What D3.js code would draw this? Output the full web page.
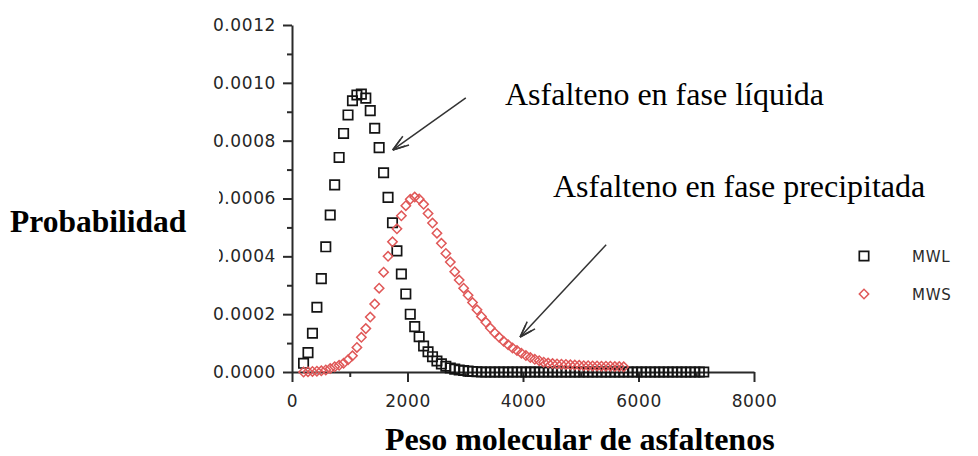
<!DOCTYPE html>
<html>
<head>
<meta charset="utf-8">
<script src="https://cdn.jsdelivr.net/npm/d3@7"></script>
<style>
  body { margin:0; background:#fff; }
  .tick text { font-family:"DejaVu Sans", sans-serif; font-size:17px; fill:#262626; letter-spacing:0.6px; }
  .axis path, .axis line { stroke:#2a2a2a; stroke-width:2; }
  .serif { font-family:"Liberation Serif", "Times New Roman", serif; fill:#000; }
</style>
</head>
<body>
<svg id="chart" width="978" height="456"></svg>
<script>
// peso molecular (x of every marker)
pesoMolecular = [200, 277, 354, 431, 508, 585, 662, 739, 816, 893, 970, 1047, 1124, 1201, 1278, 1355,
  1432, 1509, 1586, 1663, 1740, 1817, 1894, 1971, 2048, 2125, 2202, 2279, 2356, 2433, 2510, 2587,
  2664, 2741, 2818, 2895, 2972, 3049, 3126, 3203, 3280, 3357, 3434, 3511, 3588, 3665, 3742, 3819,
  3896, 3973, 4050, 4127, 4204, 4281, 4358, 4435, 4512, 4589, 4666, 4743, 4820, 4897, 4974, 5051,
  5128, 5205, 5282, 5359, 5436, 5513, 5590, 5667, 5744, 5821, 5898, 5975, 6052, 6129, 6206, 6283,
  6360, 6437, 6514, 6591, 6668, 6745, 6822, 6899, 6976, 7053, 7130]

// MWL - asfalteno en fase liquida
mwl = [0.00003, 0.000067, 0.000134, 0.000224, 0.000323, 0.000433, 0.000543, 0.000647, 0.000742, 0.000825,
  0.000889, 0.000938, 0.000958, 0.000961, 0.000947, 0.000904, 0.000843, 0.000776, 0.000689, 0.000604,
  0.000516, 0.000419, 0.000339, 0.00027, 0.0002, 0.000157, 0.000122, 0.00009, 0.00007, 0.000053,
  0.000038, 0.000028, 0.00002, 0.000014, 0.00001, 0.000007, 0.000005, 0.000003, 0.000002, 0.000001,
  0, 0, 0, 0, 0, 0, 0, 0, 0, 0, 0, 0, 0, 0, 0, 0, 0, 0, 0, 0, 0, 0, 0, 0, 0,
  0, 0, 0, 0, 0, 0, 0, 0, 0, 0, 0, 0, 0, 0, 0, 0, 0, 0, 0, 0, 0, 0, 0, 0, 0, 0]

// MWS - asfalteno en fase precipitada (ends near 5750)
mws = [0, 0.000001, 0.000002, 0.000003, 0.000004, 0.000007, 0.000012, 0.000018, 0.000023, 0.00003,
  0.000042, 0.000056, 0.000085, 0.00012, 0.00015, 0.00019, 0.000235, 0.00029, 0.000345, 0.0004,
  0.00045, 0.000495, 0.00054, 0.000575, 0.000597, 0.000605, 0.000598, 0.00058, 0.000548, 0.000515,
  0.00048, 0.000445, 0.00041, 0.00038, 0.000347, 0.000318, 0.00029, 0.000265, 0.00024, 0.000215,
  0.000192, 0.000172, 0.000152, 0.000135, 0.00012, 0.000106, 0.000094, 0.000083, 0.000074, 0.000065,
  0.000057, 0.00005, 0.000044, 0.000039, 0.000034, 0.000031, 0.000029, 0.000028, 0.000027, 0.000026,
  0.000025, 0.000024, 0.000023, 0.000022, 0.000022, 0.000021, 0.000021, 0.00002, 0.00002, 0.00002,
  0.000019, 0.000019, 0.000018]

xTicks = [0, 2000, 4000, 6000, 8000]
xMinor = [1000, 3000, 5000, 7000]
yTicks = [0, 0.0002, 0.0004, 0.0006, 0.0008, 0.0010, 0.0012]
yMinor = [0.0001, 0.0003, 0.0005, 0.0007, 0.0009, 0.0011]

seriesNames = ["MWL", "MWS"]

// annotations: text + arrow (start -> tip) in data units
notas = [
  {texto:"Asfalteno en fase líquida", tx:505, ty:105, from:[3010, 0.000948], to:[1745, 0.000768]},
  {texto:"Asfalteno en fase precipitada", tx:553, ty:197, from:[5440, 0.000440], to:[3950, 0.000121]}
]

svg = d3.select("#chart")
x = d3.scaleLinear().domain([0, 8000]).range([292, 754])
y = d3.scaleLinear().domain([0, 0.0012]).range([372, 25])

g_axes = svg.append("g")

g_axes.append("g").attr("class","axis")
  .attr("transform","translate(0,372)")
  .call(d3.axisBottom(x).tickValues(xTicks).tickSize(10).tickSizeOuter(0).tickPadding(13).tickFormat(d3.format("d")))
g_axes.append("g").attr("class","axis minor")
  .attr("transform","translate(0,372)")
  .call(d3.axisBottom(x).tickValues(xMinor).tickSize(5).tickFormat(""))

g_axes.append("g").attr("class","axis")
  .attr("transform","translate(292,0)")
  .call(d3.axisLeft(y).tickValues(yTicks).tickSize(9).tickSizeOuter(0).tickPadding(7).tickFormat(d3.format(".4f")))
g_axes.append("g").attr("class","axis minor")
  .attr("transform","translate(292,0)")
  .call(d3.axisLeft(y).tickValues(yMinor).tickSize(5).tickFormat(""))

svg.selectAll(".minor path").remove()

// the pasted "Probabilidad" box hides part of the first digit of two labels
svg.append("rect").attr("x",196).attr("y",186).attr("width",23).attr("height",78).style("fill","#fff")

sq = d3.symbol().type(d3.symbolSquare).size(88)
dia = d3.symbol().type(d3.symbolSquare).size(44)

g_mwl = svg.append("g")
g_mwl.selectAll("path")
  .data(pesoMolecular.map((d,i) => [d, mwl[i]]))
  .join("path")
  .attr("d", sq)
  .attr("transform", d => "translate(" + x(d[0]) + "," + y(d[1]) + ")")
  .style("fill","none").style("stroke","#141414").style("stroke-width",1.7)

g_mws = svg.append("g")
g_mws.selectAll("path")
  .data(mws.map((v,i) => [pesoMolecular[i], v]))
  .join("path")
  .attr("d", dia)
  .attr("transform", d => "translate(" + x(d[0]) + "," + y(d[1]) + ") rotate(45)")
  .style("fill","none").style("stroke","#e05858").style("stroke-width",1.5)

// legend
g_leg = svg.append("g")
g_leg.append("path").attr("d", sq).attr("transform","translate(864,256)")
  .style("fill","none").style("stroke","#141414").style("stroke-width",1.7)
g_leg.append("path").attr("d", dia).attr("transform","translate(864,294) rotate(45)")
  .style("fill","none").style("stroke","#e05858").style("stroke-width",1.5)
g_leg.selectAll("text").data(seriesNames).join("text")
  .attr("x", 912).attr("y", (d,i) => 262 + i*38)
  .style("font-family","DejaVu Sans").style("font-size","15px").style("fill","#2a2a2a").style("letter-spacing","0.8px")
  .text(d => d)

// arrows
function draw_arrow(n){
  x1 = x(n.from[0]); y1 = y(n.from[1])
  x2 = x(n.to[0]); y2 = y(n.to[1])
  ang = Math.atan2(y1 - y2, x1 - x2)
  a = svg.append("g").style("stroke","#333").style("fill","none").style("stroke-width",1.5)
  a.append("line").attr("x1",x1).attr("y1",y1).attr("x2",x2).attr("y2",y2)
  for (len of [17, 13]) {
    for (s of [-0.32, 0.32]) {
      a.append("line").attr("x1",x2).attr("y1",y2)
        .attr("x2", x2 + len*Math.cos(ang+s)).attr("y2", y2 + len*Math.sin(ang+s))
    }
  }
}
notas.forEach(draw_arrow)

svg.selectAll(".nota").data(notas).join("text")
  .attr("class","serif nota")
  .attr("x", d => d.tx).attr("y", d => d.ty)
  .style("font-size","32px")
  .text(d => d.texto)

svg.append("text").attr("class","serif")
  .attr("x", 10).attr("y", 232)
  .style("font-size","31.5px").style("font-weight","bold")
  .text("Probabilidad")

svg.append("text").attr("class","serif")
  .attr("x", 385).attr("y", 450)
  .style("font-size","32px").style("font-weight","bold")
  .text("Peso molecular de asfaltenos")
</script>
</body>
</html>
